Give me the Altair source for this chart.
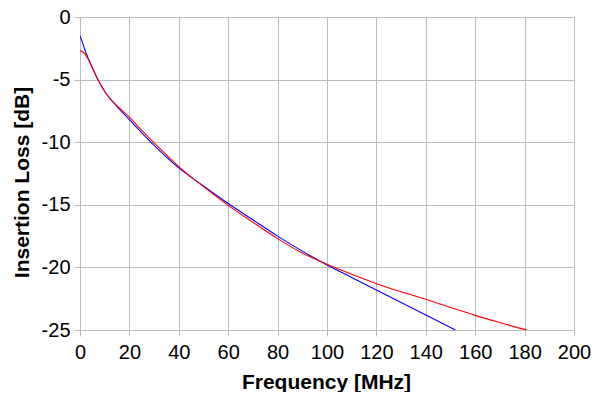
import altair as alt
import pandas as pd

# Blue series (frequency in MHz, insertion loss in dB)
blue_freq = [0, 1, 2.5, 5, 7.5, 10, 12.5, 15, 20, 25, 30, 40, 50, 60, 70, 80,
             90, 100, 110, 120, 130, 140, 150, 152]
blue_loss = [-1.5, -2.05, -2.9, -4.05, -5.1, -5.95, -6.6, -7.15, -8.2, -9.25,
             -10.25, -12.05, -13.5, -14.9, -16.2, -17.5, -18.7, -19.8, -20.8,
             -21.8, -22.8, -23.8, -24.8, -25.0]

# Red series
red_freq = [0, 1, 2, 3, 5, 7.5, 10, 12.5, 15, 20, 25, 30, 40, 50, 60, 70, 80,
            90, 100, 110, 120, 130, 140, 150, 160, 170, 180, 181]
red_loss = [-2.7, -2.78, -2.95, -3.25, -4.05, -5.1, -5.95, -6.6, -7.1, -8.0,
            -9.05, -10.05, -11.95, -13.55, -15.05, -16.4, -17.7, -18.85, -19.75,
            -20.55, -21.3, -21.95, -22.55, -23.2, -23.83, -24.4, -24.95, -25.0]

x_ticks = list(range(0, 201, 20))
y_ticks = list(range(-25, 1, 5))

df = pd.concat([
    pd.DataFrame({"f": blue_freq, "v": blue_loss, "s": "blue"}),
    pd.DataFrame({"f": red_freq, "v": red_loss, "s": "red"}),
], ignore_index=True)

chart = alt.Chart(df).mark_line(strokeWidth=1.1, interpolate="monotone", clip=True).encode(
    x=alt.X("f:Q",
            scale=alt.Scale(domain=[0, 200], nice=False, zero=False),
            axis=alt.Axis(title="Frequency [MHz]", values=x_ticks,
                          titleX=246, titleY=41, labelPadding=6,
                          labelFlush=False, labelOverlap=False,
                          labelExpr="'' + datum.value")),
    y=alt.Y("v:Q",
            scale=alt.Scale(domain=[-25, 0], nice=False, zero=False),
            axis=alt.Axis(title="Insertion Loss [dB]", values=y_ticks,
                          titleX=-48, titleY=165, labelPadding=4,
                          labelFlush=False, labelOverlap=False,
                          labelExpr="'' + datum.value")),
    color=alt.Color("s:N", scale=alt.Scale(domain=["blue", "red"],
                                           range=["#0000ff", "#ff0000"]),
                    legend=None),
    detail="s:N",
).properties(
    width=494, height=313,
    background="white",
    autosize=alt.AutoSizeParams(type="none"),
    padding={"left": 72, "top": 9, "right": 18, "bottom": 62},
).configure_view(
    strokeWidth=0
).configure_axis(
    domain=False,
    grid=True,
    gridColor="#bbbbbb",
    gridWidth=1,
    tickColor="#bbbbbb",
    tickSize=6,
    labelFont="Liberation Sans",
    labelFontSize=20,
    labelColor="#000000",
    titleFont="Liberation Sans",
    titleFontSize=21,
    titleFontWeight="bold",
    titleColor="#000000",
)

chart.save("out.html", embed_options={"renderer": "svg", "actions": False})
